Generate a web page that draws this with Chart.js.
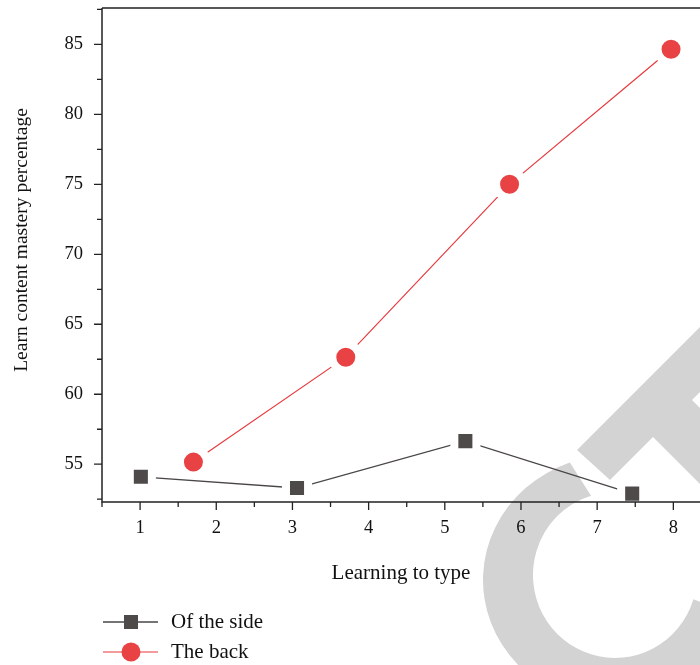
<!DOCTYPE html>
<html>
<head>
<meta charset="utf-8">
<script src="https://cdn.jsdelivr.net/npm/chart.js@4"></script>
<style>
  html, body { margin: 0; padding: 0; background: #fff; }
  #wrap { width: 700px; height: 665px; position: relative; }
</style>
</head>
<body>
<div id="wrap"><canvas id="chart" width="700" height="665"></canvas></div>
<script>
// data
const sideX = [1.01, 3.06, 5.27, 7.46];
const sideY = [54.1, 53.3, 56.65, 52.9];
const backX = [1.70, 3.70, 5.85, 7.97];
const backY = [55.15, 62.65, 75.0, 84.65];
const xTicks = [1, 2, 3, 4, 5, 6, 7, 8];
const xMinor = [0.5, 1.5, 2.5, 3.5, 4.5, 5.5, 6.5, 7.5];
const yTicks = [55, 60, 65, 70, 75, 80, 85];
const yMinor = [52.5, 57.5, 62.5, 67.5, 72.5, 77.5, 82.5, 87.5];
const seriesNames = ["Of the side", "The back"];

const FONT = "'Liberation Serif', 'Times New Roman', serif";
const AXIS = "#222";

const toPts = (xs, ys) => xs.map((x, i) => ({ x: x, y: ys[i] }));

// grey watermark behind everything
const watermark = {
  id: "watermark",
  beforeDraw(chart) {
    const ctx = chart.ctx;
    ctx.save();
    ctx.fillStyle = "#fff";
    ctx.fillRect(0, 0, chart.width, chart.height);
    ctx.fillStyle = "#d3d3d3";
    const d = Math.PI / 180;
    ctx.beginPath();
    ctx.ellipse(615, 580, 132, 125, 0, 250 * d, 17 * d, true);
    ctx.ellipse(615, 575, 82, 83, 0, 17 * d, 253 * d, false);
    ctx.closePath();
    ctx.fill();
    ctx.beginPath();
    ctx.moveTo(760, 267);
    ctx.lineTo(577, 450);
    ctx.lineTo(610, 480);
    ctx.lineTo(653, 437);
    ctx.lineTo(760, 544);
    ctx.lineTo(760, 468);
    ctx.lineTo(692, 400);
    ctx.lineTo(760, 332);
    ctx.closePath();
    ctx.fill();
    ctx.restore();
  }
};

// axes, minor ticks, y title and legend on top
const frame = {
  id: "frame",
  afterDraw(chart) {
    const ctx = chart.ctx;
    const a = chart.chartArea;
    const xs = chart.scales.x, ys = chart.scales.y;
    ctx.save();
    ctx.strokeStyle = AXIS;
    ctx.lineWidth = 1.5;
    ctx.beginPath();
    ctx.moveTo(a.left, a.top);
    ctx.lineTo(a.right, a.top);
    ctx.moveTo(a.left, a.top);
    ctx.lineTo(a.left, a.bottom);
    ctx.lineTo(a.right, a.bottom);
    ctx.stroke();
    ctx.lineWidth = 1.3;
    ctx.beginPath();
    xTicks.forEach(v => { const p = xs.getPixelForValue(v); ctx.moveTo(p, a.bottom); ctx.lineTo(p, a.bottom + 8); });
    xMinor.forEach(v => { const p = xs.getPixelForValue(v); ctx.moveTo(p, a.bottom); ctx.lineTo(p, a.bottom + 5); });
    yTicks.forEach(v => { const p = ys.getPixelForValue(v); ctx.moveTo(a.left, p); ctx.lineTo(a.left - 8, p); });
    yMinor.forEach(v => { const p = ys.getPixelForValue(v); ctx.moveTo(a.left, p); ctx.lineTo(a.left - 5, p); });
    ctx.stroke();

    ctx.fillStyle = "#111";
    ctx.font = "19.5px " + FONT;
    ctx.textAlign = "center";
    ctx.textBaseline = "middle";
    ctx.save();
    ctx.translate(22, 240);
    ctx.rotate(-Math.PI / 2);
    ctx.fillText("Learn content mastery percentage", 0, 0);
    ctx.restore();

    // legend
    ctx.font = "21px " + FONT;
    chart.data.datasets.forEach((ds, i) => {
      const y = 622 + i * 30;
      ctx.strokeStyle = ds.borderColor;
      ctx.lineWidth = ds.borderWidth;
      ctx.beginPath();
      ctx.moveTo(103, y);
      ctx.lineTo(158, y);
      ctx.stroke();
      ctx.fillStyle = ds.pointBackgroundColor;
      if (ds.pointStyle === "rect") {
        ctx.fillRect(124, y - 7, 14, 14);
      } else {
        ctx.beginPath();
        ctx.arc(131, y, 9.5, 0, Math.PI * 2);
        ctx.fill();
      }
      ctx.fillStyle = "#111";
      ctx.textAlign = "left";
      ctx.fillText(ds.label, 171, y);
    });
    ctx.restore();
  }
};

const noPad = s => { s.paddingTop = 0; s.paddingBottom = 0; s.paddingLeft = 0; s.paddingRight = 0; };

new Chart(document.getElementById("chart"), {
  type: "line",
  data: {
    datasets: [
      {
        label: seriesNames[0],
        data: toPts(sideX, sideY),
        borderColor: "#4a4646",
        borderWidth: 1.3,
        pointStyle: "rect",
        pointRadius: 15.6,
        pointHoverRadius: 15.6,
        pointBackgroundColor: "#4f4a4a",
        pointBorderColor: "#fff",
        pointBorderWidth: 8,
        clip: false
      },
      {
        label: seriesNames[1],
        data: toPts(backX, backY),
        borderColor: "#e8383c",
        borderWidth: 1.2,
        pointStyle: "circle",
        pointRadius: 13.5,
        pointHoverRadius: 13.5,
        pointBackgroundColor: "#e84244",
        pointBorderColor: "#fff",
        pointBorderWidth: 8,
        clip: false
      }
    ]
  },
  options: {
    responsive: false,
    animation: false,
    events: [],
    layout: { autoPadding: false, padding: { left: 0, right: 0, top: 8, bottom: 79 } },
    plugins: { legend: { display: false }, tooltip: { enabled: false } },
    scales: {
      x: {
        type: "linear",
        min: 0.5,
        max: 8.35,
        afterBuildTicks: s => { s.ticks = xTicks.map(v => ({ value: v })); },
        afterFit: s => { s.height = 84; noPad(s); },
        grid: { display: false },
        border: { display: false },
        ticks: { color: "#111", padding: 7, maxRotation: 0, font: { family: FONT, size: 18.5 } },
        title: {
          display: true,
          text: "Learning to type",
          color: "#111",
          padding: 0,
          font: { family: FONT, size: 21 }
        }
      },
      y: {
        min: 52.3,
        max: 87.6,
        afterBuildTicks: s => { s.ticks = yTicks.map(v => ({ value: v })); },
        afterFit: s => { s.width = 102; noPad(s); },
        grid: { display: false },
        border: { display: false },
        ticks: { color: "#111", padding: 11, font: { family: FONT, size: 18.5 } }
      }
    }
  },
  plugins: [watermark, frame]
});
</script>
</body>
</html>
